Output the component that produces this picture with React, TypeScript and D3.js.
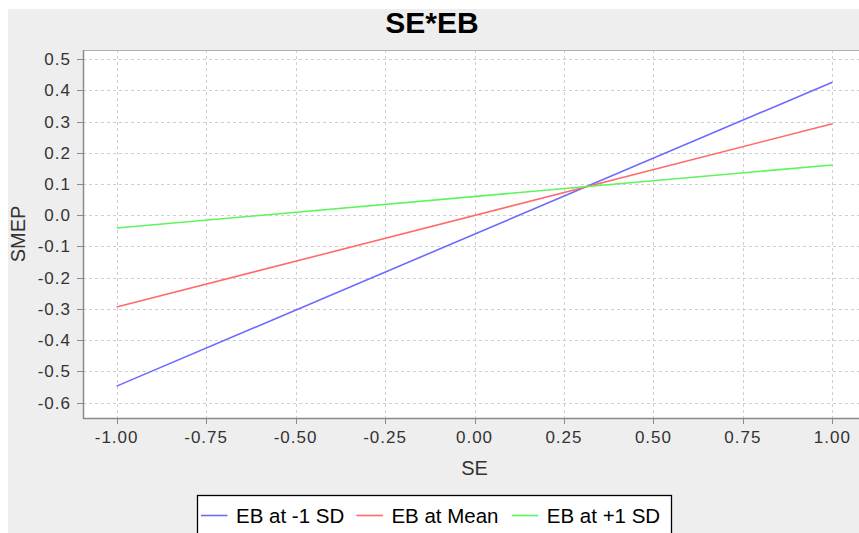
import React from "react";
import * as d3 from "d3";

const seriesNames = ["EB at -1 SD", "EB at Mean", "EB at +1 SD"];
const seriesColors = ["#6b6bff", "#ff6b6b", "#5cf55c"];
const xValues = [-1.0, 1.0];
const lowSD = [-0.547, 0.426];
const meanVals = [-0.294, 0.293];
const highSD = [-0.041, 0.161];
const yTicks = [0.5, 0.4, 0.3, 0.2, 0.1, 0.0, -0.1, -0.2, -0.3, -0.4, -0.5, -0.6];
const xTicks = [-1.0, -0.75, -0.5, -0.25, 0.0, 0.25, 0.5, 0.75, 1.0];

const W = 859;
const H = 533;

const fmt = (digits: number) => (v: number) => {
  const s = Math.abs(v).toFixed(digits);
  return (v < -1e-9 ? "-" : "") + s;
};

export default function App() {
  const series = [lowSD, meanVals, highSD];
  const plot = { left: 83, top: 50, right: 866, bottom: 418 };
  const x = d3.scaleLinear().domain([-1.094, 1.094]).range([plot.left, plot.right]);
  const y = d3.scaleLinear().domain([-0.649, 0.529]).range([plot.bottom, plot.top]);
  const line = d3
    .line<[number, number]>()
    .x((d) => x(d[0]))
    .y((d) => y(d[1]));
  const font = "Arial, 'Liberation Sans', sans-serif";
  const axisColor = "#8a8a8a";
  const gridColor = "#cfcfcf";
  const fy = fmt(1);
  const fx = fmt(2);

  return (
    <svg
      width={W}
      height={H}
      style={{ position: "absolute", left: 0, top: 0 }}
      fontFamily={font}
    >
      <rect x={0} y={0} width={W} height={H} fill="#ffffff" />
      <rect x={8} y={9} width={W - 8} height={H - 9} fill="#eeeeee" />
      <text x={432} y={33} textAnchor="middle" fontSize={30} fontWeight="bold" fill="#000">
        SE*EB
      </text>
      <clipPath id="clipAll">
        <rect x={8} y={9} width={W - 8} height={H - 9} />
      </clipPath>
      <g clipPath="url(#clipAll)">
        <rect
          x={plot.left}
          y={plot.top}
          width={plot.right - plot.left}
          height={plot.bottom - plot.top}
          fill="#ffffff"
        />
        {yTicks.map((t) => (
          <line
            key={"gy" + t}
            x1={plot.left}
            x2={plot.right}
            y1={Math.round(y(t)) + 0.5}
            y2={Math.round(y(t)) + 0.5}
            stroke={gridColor}
            strokeDasharray="3,3"
          />
        ))}
        {xTicks.map((t) => (
          <line
            key={"gx" + t}
            x1={Math.round(x(t)) + 0.5}
            x2={Math.round(x(t)) + 0.5}
            y1={plot.top}
            y2={plot.bottom}
            stroke={gridColor}
            strokeDasharray="3,3"
          />
        ))}
        <line x1={plot.left} x2={plot.right} y1={plot.top + 0.5} y2={plot.top + 0.5} stroke="#b0b0b0" />
        {series.map((s, i) => (
          <path
            key={seriesNames[i]}
            d={line(xValues.map((xv, j) => [xv, s[j]] as [number, number])) || ""}
            fill="none"
            stroke={seriesColors[i]}
            strokeWidth={1.6}
          />
        ))}
        <line x1={plot.left + 0.5} x2={plot.left + 0.5} y1={plot.top} y2={plot.bottom + 1} stroke={axisColor} strokeWidth={1.5} />
        <line x1={plot.left} x2={plot.right} y1={plot.bottom + 0.5} y2={plot.bottom + 0.5} stroke={axisColor} strokeWidth={1.5} />
        {yTicks.map((t) => (
          <g key={"ty" + t}>
            <line x1={77} x2={plot.left} y1={Math.round(y(t)) + 0.5} y2={Math.round(y(t)) + 0.5} stroke={axisColor} />
            <text
              x={71}
              y={y(t) + 6}
              textAnchor="end"
              fontSize={17}
              letterSpacing={1}
              fill="#333"
            >
              {fy(t)}
            </text>
          </g>
        ))}
        {xTicks.map((t) => (
          <g key={"tx" + t}>
            <line x1={Math.round(x(t)) + 0.5} x2={Math.round(x(t)) + 0.5} y1={plot.bottom} y2={plot.bottom + 6} stroke={axisColor} />
            <text x={x(t)} y={443} textAnchor="middle" fontSize={17} letterSpacing={1} fill="#333">
              {fx(t)}
            </text>
          </g>
        ))}
        <text x={(plot.left + plot.right) / 2} y={475} textAnchor="middle" fontSize={20} fill="#333">
          SE
        </text>
        <text
          transform={`translate(25, 234) rotate(-90)`}
          textAnchor="middle"
          fontSize={20}
          fill="#333"
        >
          SMEP
        </text>
        <rect x={197.5} y={495.5} width={474} height={60} fill="#ffffff" stroke="#000" strokeWidth={1.3} />
        {seriesNames.map((name, i) => {
          const x0 = 201 + i * 155.4;
          return (
            <g key={"lg" + name}>
              <line x1={x0} x2={x0 + 26.5} y1={515.5} y2={515.5} stroke={seriesColors[i]} strokeWidth={1.6} />
              <text x={x0 + 35} y={523} fontSize={20.5} fill="#000">
                {name}
              </text>
            </g>
          );
        })}
      </g>
    </svg>
  );
}
